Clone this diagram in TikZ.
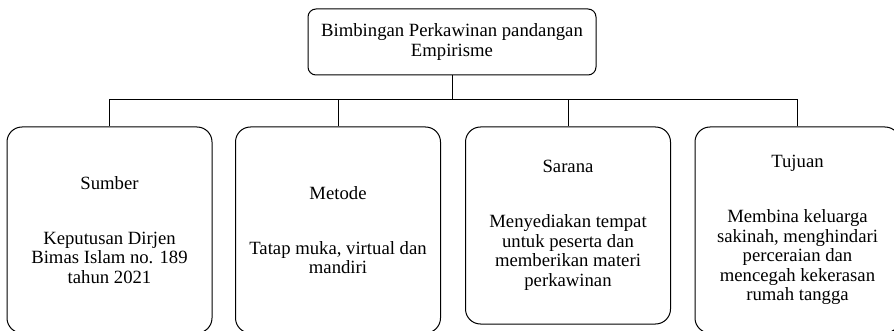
\documentclass[tikz,border=0pt]{standalone}
\usepackage{fontspec}
\setmainfont{Liberation Serif}
\usetikzlibrary{calc}
\tikzset{
  garis/.style={line width=1pt},
  kotakatas/.style={draw, line width=1pt, rounded corners=8pt, align=center, minimum width=288pt, minimum height=66pt, inner sep=0pt, font=\fontsize{18.7}{19.5}\selectfont},
  kotak/.style={draw, line width=1pt, rounded corners=15pt, align=center, minimum width=205pt, minimum height=206pt, inner sep=0pt, font=\fontsize{18.7}{19.5}\selectfont}
}
\newcommand{\aspek}[6]{\node[kotak, minimum height=#4pt] (#1) at ( #2 , #3 ) {#5\\[35.5pt]#6};}

\begin{document}
\begin{tikzpicture}[x=1pt,y=-1pt]
        \useasboundingbox (0,0) rectangle (894,331);
        \clip (0,0) rectangle (894,331);

        % atas
        \node[kotakatas] (bimbingan) at (452,42) {Bimbingan Perkawinan pandangan\\Empirisme};
        \coordinate (cabang) at (452,100);

        % baris bawah
        \aspek{sumber}{109.5}{230}{206}{Sumber}{Keputusan Dirjen\\Bimas Islam no. 189\\tahun 2021}
        \aspek{metode}{338}{230}{206}{Metode}{Tatap muka, virtual dan\\mandiri}
        \aspek{sarana}{568}{225.5}{197}{Sarana}{Menyediakan tempat\\untuk peserta dan\\memberikan materi\\perkawinan}
        \aspek{tujuan}{797.5}{230}{206}{Tujuan}{Membina keluarga\\sakinah, menghindari\\perceraian dan\\mencegah kekerasan\\rumah tangga}

        % garis
        \draw[garis] (bimbingan.south) -- (bimbingan.south |- cabang) -| (sumber.north);
        \draw[garis] (bimbingan.south) -- (bimbingan.south |- cabang) -| (metode.north);
        \draw[garis] (bimbingan.south) -- (bimbingan.south |- cabang) -| (sarana.north);
        \draw[garis] (bimbingan.south) -- (bimbingan.south |- cabang) -| (tujuan.north);
\end{tikzpicture}
\end{document}
